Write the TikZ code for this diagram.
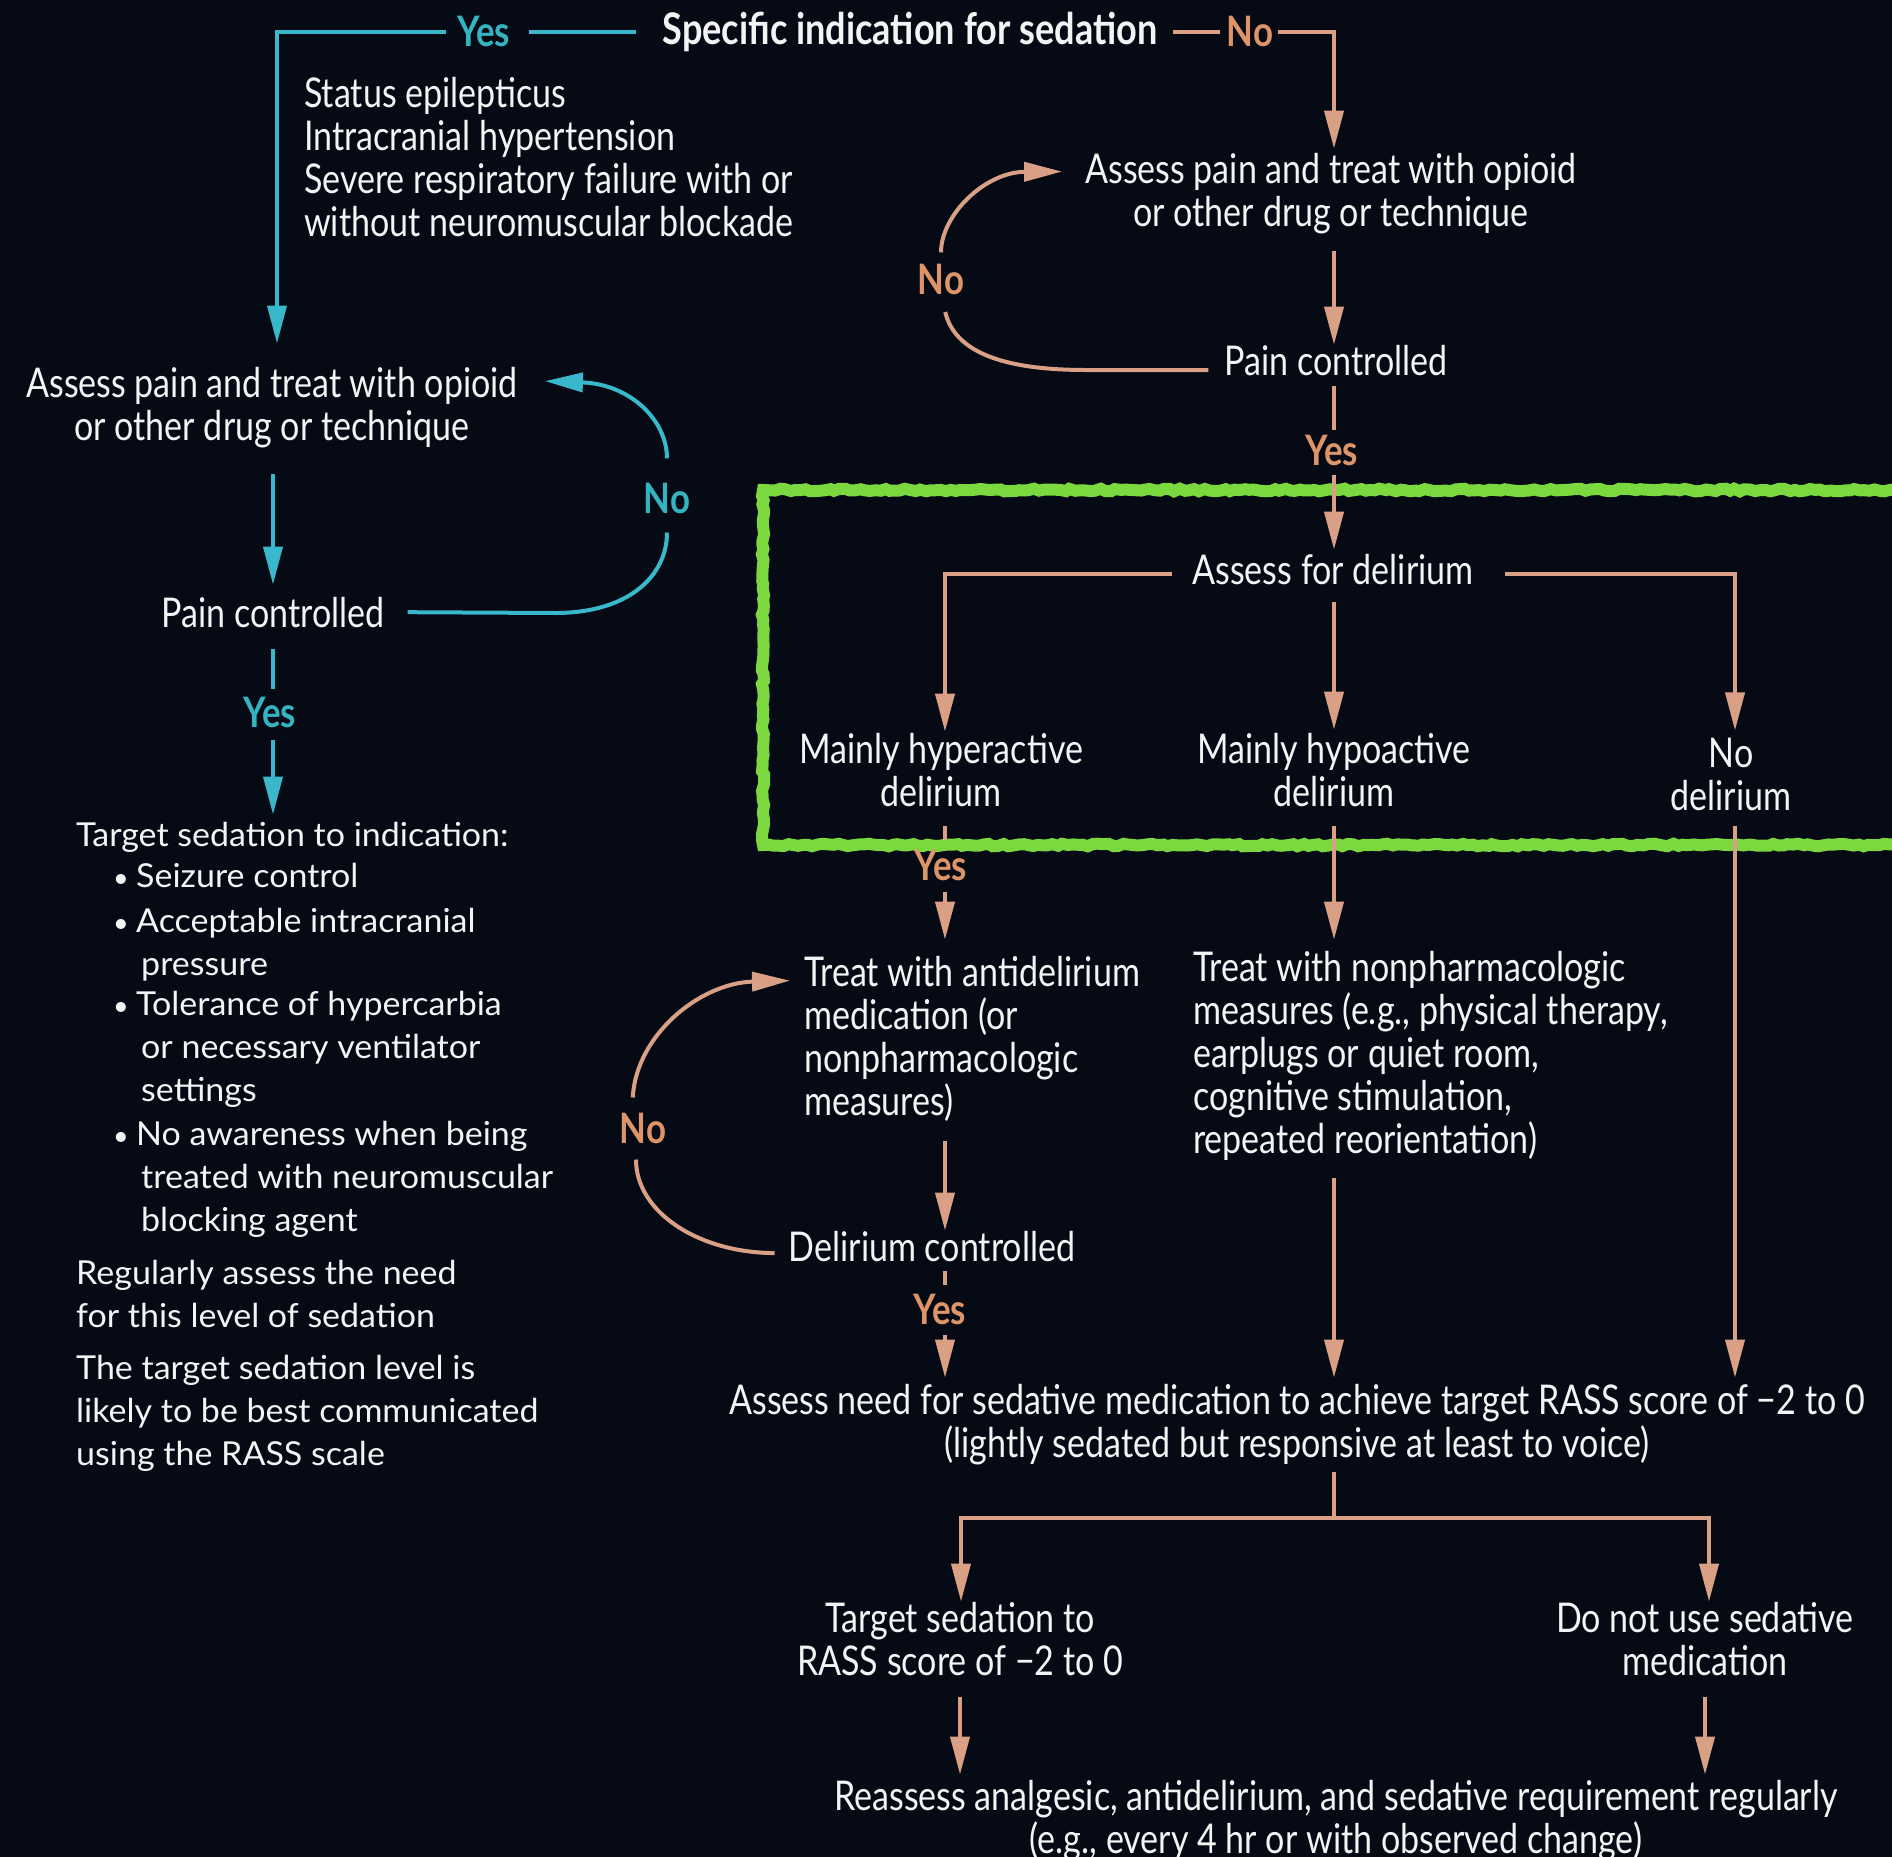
\documentclass[tikz,border=0pt]{standalone}
\usepackage{fontspec}
\setmainfont{Lato}
\newfontfamily\condfont[FakeStretch=0.83]{Lato}
\newfontfamily\widefont[FakeStretch=1.03]{Lato}
\usetikzlibrary{arrows.meta,decorations.pathmorphing,calc}

\definecolor{bg}{HTML}{050A14}
\definecolor{tealc}{HTML}{3AB8CB}
\definecolor{teallbl}{HTML}{34B4C0}
\definecolor{salm}{HTML}{D9A086}
\definecolor{salmlbl}{HTML}{DD9468}
\definecolor{ink}{HTML}{F4F4F4}
\definecolor{marker}{HTML}{7BD83E}

% multi-line nodes are placed by the baseline of their last line
\tikzset{
  rt/.style={text=ink, inner sep=0pt, font=\condfont\fontsize{41}{43}\selectfont, align=center, anchor=base},
  rtl/.style={rt, align=left, anchor=base west},
  lt/.style={text=ink, inner sep=0pt, font=\widefont\fontsize{33}{43}\selectfont, align=left, anchor=base west},
  dotmark/.style={text=ink, inner sep=0pt, font=\fontsize{27}{27}\selectfont, anchor=base},
  ttl/.style={text=ink, inner sep=0pt, font=\condfont\bfseries\fontsize{43.5}{44}\selectfont, anchor=base},
  ylab/.style={inner sep=0pt, font=\condfont\bfseries\fontsize{42}{42}\selectfont, anchor=base},
  tlab/.style={ylab, text=teallbl},
  slab/.style={ylab, text=salmlbl},
  tline/.style={draw=tealc, line width=4pt},
  sline/.style={draw=salm, line width=4pt},
  arrowed/.style={-{Triangle[width=19pt,length=38pt]}},
  roughbox/.style={draw=marker, line width=12pt, decorate,
    decoration={random steps, segment length=5pt, amplitude=1.3pt}},
}

\begin{document}
\begin{tikzpicture}[x=1pt, y=-1pt]
\pgfmathsetseed{7}
\fill[bg] (0,0) rectangle (1892,1857);
\useasboundingbox (0,0) rectangle (1892,1857);

% highlight frame round the delirium assessment
\draw[roughbox] (1905,490) -- (763,490) -- (763,845) -- (1905,845);

% column guides
\coordinate (colT) at (277,0);
\coordinate (colTL) at (273,0);
\coordinate (colR) at (1334,0);
\coordinate (colA) at (945,0);
\coordinate (colN) at (1735,0);
\coordinate (colTg) at (961,0);
\coordinate (colDn) at (1709,0);
\coordinate (colTg2) at (960,0);
\coordinate (colDn2) at (1705,0);
\coordinate (split) at (1334,1518);

% ---- nodes ----
\node[ttl] (title) at (910,45) {Specific indication for sedation};
\node[tlab] (yesTop) at (484,47) {Yes};
\node[slab] (noTop) at (1250,47) {No};

\node[rtl] (indic) at (304,236) {Status epilepticus\\Intracranial hypertension\\Severe respiratory failure with or\\without neuromuscular blockade};

\node[rt] (lAssess) at (272,440) {Assess pain and treat with opioid\\or other drug or technique};
\node[rt] (lPain) at (273,627) {Pain controlled};
\node[tlab] (lNo) at (667,513) {No};
\node[tlab] (lYes) at (270,727) {Yes};

\node[lt] (tHead) at (76,846) {Target sedation to indication:};
\node[dotmark] (d1) at (121,887) {•};
\node[lt] (b1) at (136,887) {Seizure control};
\node[dotmark] (d2) at (121,932) {•};
\node[lt] (b2) at (136,975) {Acceptable intracranial\\\hspace*{5pt}pressure};
\node[dotmark] (d3) at (121,1015) {•};
\node[lt] (b3) at (136,1101) {Tolerance of hypercarbia\\\hspace*{5pt}or necessary ventilator\\\hspace*{5pt}settings};
\node[dotmark] (d4) at (121,1145) {•};
\node[lt] (b4) at (136,1231) {No awareness when being\\\hspace*{5pt}treated with neuromuscular\\\hspace*{5pt}blocking agent};
\node[lt] (reg) at (76,1327) {Regularly assess the need\\for this level of sedation};
\node[lt] (rass) at (76,1465) {The target sedation level is\\likely to be best communicated\\using the RASS scale};

\node[rt] (rAssess) at (1331,226) {Assess pain and treat with opioid\\or other drug or technique};
\node[slab] (rNo) at (941,294) {No};
\node[rt] (rPain) at (1336,375) {Pain controlled};
\node[slab] (rYes) at (1332,465) {Yes};
\node[rt] (delir) at (1333,584) {Assess for delirium};
\node[rt] (hyper) at (941,806) {Mainly hyperactive\\delirium};
\node[rt] (hypo) at (1334,806) {Mainly hypoactive\\delirium};
\node[rt] (nodel) at (1731,810) {No\\delirium};
\node[slab] (hyYes) at (941,880) {Yes};
\node[rtl] (antiTx) at (804,1115) {Treat with antidelirium\\medication (or\\nonpharmacologic\\measures)};
\node[rtl] (nonTx) at (1193,1153) {Treat with nonpharmacologic\\measures (e.g., physical therapy,\\earplugs or quiet room,\\cognitive stimulation,\\repeated reorientation)};
\node[rt] (delCtl) at (932,1261) {Delirium controlled};
\node[slab] (dNo) at (643,1143) {No};
\node[slab] (dYes) at (940,1324) {Yes};
\node[rt] (need) at (1297,1457) {Assess need for sedative medication to achieve target RASS score of −2 to 0\\(lightly sedated but responsive at least to voice)};
\node[rt] (tgt) at (960,1675) {Target sedation to\\RASS score of −2 to 0};
\node[rt] (dont) at (1705,1675) {Do not use sedative\\medication};
\node[rt] (reassess) at (1336,1853) {Reassess analgesic, antidelirium, and sedative requirement regularly\\(e.g., every 4 hr or with observed change)};

% ---- teal branch: specific indication ----
\draw[tline, shorten <=18pt, shorten >=26pt] (yesTop.east) -- (yesTop.east -| title.west);
\draw[tline, arrowed, shorten <=12pt, shorten >=23pt] (yesTop.west) -| (lAssess.north -| colT);
\draw[tline, arrowed, shorten <=26pt, shorten >=12pt] (lAssess.south -| colTL) -- (lPain.north -| colTL);
\draw[tline, shorten <=21pt, shorten >=7pt] (lPain.south -| colTL) -- (lYes.north -| colTL);
\draw[tline, arrowed, shorten <=12pt, shorten >=7pt] (lYes.south -| colTL) -- (tHead.north -| colTL);
\draw[tline, shorten <=23pt, shorten >=19pt] (lPain.east) -- (555,613) .. controls (630,613) and (667,575) .. (lNo.south);
\draw[tline, arrowed, shorten <=24pt] (lNo.north) .. controls (667,420) and (630,384) .. ([shift={(27pt,26pt)}]lAssess.east);

% ---- salmon branch: no specific indication ----
\draw[sline, shorten <=15pt, shorten >=7pt] (title.east |- noTop.west) -- (noTop.west);
\draw[sline, arrowed, shorten <=5pt, shorten >=4pt] (noTop.east) -| (rAssess.north -| colR);
\draw[sline, arrowed, shorten <=17pt] (rAssess.south -| colR) -- (rPain.north -| colR);
\draw[sline, shorten <=10pt, shorten >=4pt] (rPain.south -| colR) -- (rYes.north -| colR);
\draw[sline, arrowed, shorten <=9pt, shorten >=4pt] (rYes.south -| colR) -- (delir.north -| colR);
\draw[sline, shorten <=16pt, shorten >=18pt] ([yshift=-10pt]rPain.west) -- (1086,370) .. controls (1005,370) and (955,353) .. (rNo.south);
\draw[sline, arrowed, shorten <=11pt] (rNo.north) .. controls (941,215) and (985,172) .. ([shift={(-23pt,-19pt)}]rAssess.north west);

% ---- delirium assessment ----
\draw[sline, arrowed, shorten <=20pt, shorten >=1pt] ([yshift=10pt]delir.base west) -| (hyper.north -| colA);
\draw[sline, arrowed, shorten <=31pt, shorten >=7pt] ([yshift=10pt]delir.base east) -| (nodel.north -| colN);
\draw[sline, arrowed, shorten <=17pt, shorten >=3pt] (delir.south -| colR) -- (hypo.north -| colR);

% hyperactive branch
\draw[sline, shorten <=19pt, shorten >=9pt] (hyper.south -| colA) -- (hyYes.north -| colA);
\draw[sline, arrowed, shorten <=11pt, shorten >=16pt] (hyYes.south -| colA) -- (antiTx.north -| colA);
\draw[sline, arrowed, shorten <=20pt] (antiTx.south -| colA) -- (delCtl.north -| colA);
\draw[sline, shorten <=9pt, shorten >=8pt] (delCtl.south -| colA) -- (dYes.north -| colA);
\draw[sline, arrowed, shorten <=10pt, shorten >=6pt] (dYes.south -| colA) -- (need.north -| colA);
\draw[sline, shorten <=14pt, shorten >=16pt] ([yshift=-7pt]delCtl.west) .. controls (700,1253) and (636,1213) .. ([xshift=-7pt]dNo.south);
\draw[sline, arrowed, shorten <=15pt] ([xshift=-11pt]dNo.north) .. controls (636,1035) and (700,983) .. ([shift={(-14pt,-25pt)}]antiTx.north west);

% hypoactive and no-delirium branches
\draw[sline, arrowed, shorten <=19pt, shorten >=11pt] (hypo.south -| colR) -- (nonTx.north -| colR);
\draw[sline, arrowed, shorten <=18pt, shorten >=6pt] (nonTx.south -| colR) -- (need.north -| colR);
\draw[sline, arrowed, shorten <=15pt, shorten >=6pt] (nodel.south -| colN) -- (need.north -| colN);

% sedative decision
\draw[sline, shorten <=7pt] (need.south -| colR) -- (split);
\draw[sline, arrowed] (split) -| (tgt.north -| colTg);
\draw[sline, arrowed] (split) -| (dont.north -| colDn);
\draw[sline, arrowed, shorten <=21pt, shorten >=5pt] (tgt.south -| colTg2) -- (reassess.north -| colTg2);
\draw[sline, arrowed, shorten <=21pt, shorten >=5pt] (dont.south -| colDn2) -- (reassess.north -| colDn2);
\end{tikzpicture}
\end{document}
